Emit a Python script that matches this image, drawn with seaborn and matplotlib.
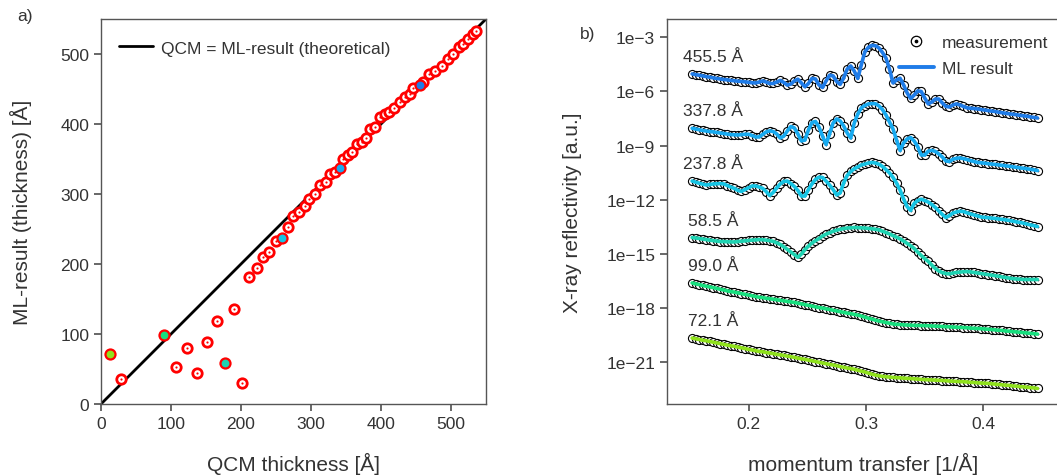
import numpy as np
import matplotlib
matplotlib.use("Agg")
import matplotlib.pyplot as plt
import seaborn as sns
from matplotlib.lines import Line2D
from matplotlib.legend_handler import HandlerTuple
from matplotlib.ticker import FixedLocator, FuncFormatter, NullLocator

# ---------------- data: panel a) ----------------
QCM_RED = [28.6, 106.7, 122.9, 137, 151, 165, 189.5, 201,
           212, 222.4, 231, 240.5, 250, 266.7, 274.8, 283.3, 291.4, 297, 305.7, 312.9,
           321, 327, 334, 346, 353.3, 359, 365, 372.4, 378.6, 384, 391.4, 398.6, 405.7,
           411.9, 419, 427, 434, 441.4, 446, 460, 469, 477, 486.7, 496, 503.3, 512,
           517.6, 524.8, 532, 535.7]
ML_RED = [35.2, 52.9, 79.5, 44, 89, 118.6, 135.7, 30,
          181, 194.3, 210.5, 216.7, 232.4, 253.3, 268, 273.8, 283.3, 292.9, 300, 313.3,
          316.7, 328.6, 331.9, 350, 355.7, 359.5, 371.4, 374.8, 379.5, 393, 396, 409.5, 414,
          417.6, 422.4, 431.9, 438, 442.9, 451, 459.5, 471, 476, 483.3, 493, 500, 509.5,
          514, 521, 528.6, 533]

# highlighted samples (order: top curve to bottom curve of panel b)
SAMPLE_THICK = [455.5, 337.8, 237.8, 58.5, 99.0, 72.1]
SAMPLE_QCM = [455, 341, 259, 177, 89.5, 12.9]
SAMPLE_LABELS = ["455.5 Å", "337.8 Å", "237.8 Å", "58.5 Å", "99.0 Å", "72.1 Å"]
SAMPLE_COLORS = ["#1f7ce8", "#17aaf0", "#16c4e4", "#1ed3b2", "#17df7e", "#8fe11c"]

# ---------------- data: panel b) (log10 reflectivity, offset curves) ----------------
Q = np.round(0.152 + 0.003 * np.arange(99), 4)

LOGR_455 = [-5.03, -5.07, -5.10, -5.14, -5.18, -5.21, -5.25, -5.28, -5.31, -5.34,
            -5.36, -5.39, -5.41, -5.43, -5.45, -5.47, -5.49, -5.52, -5.53, -5.48,
            -5.42, -5.48, -5.56, -5.56, -5.48, -5.39, -5.50, -5.65, -5.59, -5.42,
            -5.32, -5.53, -5.74, -5.56, -5.28, -5.31, -5.64, -5.78, -5.42, -5.10,
            -5.14, -5.45, -5.61, -5.25, -4.76, -4.59, -4.87, -5.28, -4.53, -3.81,
            -3.56, -3.45, -3.47, -3.59, -3.84, -4.15, -4.76, -5.53, -5.36, -5.27,
            -5.64, -6.08, -6.39, -6.20, -5.97, -6.00, -6.36, -6.69, -6.58, -6.42,
            -6.42, -6.64, -6.83, -6.86, -6.75, -6.69, -6.75, -6.83, -6.91, -6.93,
            -6.95, -6.97, -7.00, -7.03, -7.06, -7.09, -7.11, -7.15, -7.18, -7.21,
            -7.24, -7.26, -7.29, -7.32, -7.35, -7.37, -7.41, -7.44, -7.47]

LOGR_337 = [-8.04, -8.08, -8.12, -8.16, -8.19, -8.22, -8.24, -8.27, -8.30, -8.33,
            -8.36, -8.39, -8.40, -8.41, -8.39, -8.37, -8.37, -8.44, -8.52, -8.52,
            -8.38, -8.24, -8.18, -8.22, -8.35, -8.58, -8.47, -8.19, -7.94, -8.02,
            -8.35, -8.74, -8.69, -8.13, -7.72, -7.66, -7.97, -8.47, -8.94, -8.35,
            -7.75, -7.52, -7.63, -7.91, -8.30, -8.58, -7.75, -7.25, -6.91, -6.78,
            -6.69, -6.67, -6.68, -6.80, -7.00, -7.30, -7.69, -8.08, -8.69, -9.27,
            -8.85, -8.63, -8.55, -8.74, -9.05, -9.52, -9.52, -9.30, -9.26, -9.32,
            -9.46, -9.63, -9.85, -9.88, -9.75, -9.70, -9.68, -9.72, -9.77, -9.83,
            -9.88, -9.93, -9.95, -9.97, -10.00, -10.02, -10.04, -10.07, -10.09, -10.12,
            -10.14, -10.17, -10.20, -10.23, -10.25, -10.28, -10.31, -10.34, -10.38]

LOGR_237 = [-10.96, -11.02, -11.08, -11.13, -11.18, -11.15, -11.12, -11.11, -11.10, -11.12,
            -11.21, -11.29, -11.37, -11.48, -11.53, -11.43, -11.33, -11.23, -11.23, -11.29,
            -11.36, -11.54, -11.76, -11.59, -11.34, -11.12, -10.98, -10.96, -11.10, -11.26,
            -11.48, -11.79, -11.79, -11.43, -11.12, -10.87, -10.74, -10.76, -10.96, -11.18,
            -11.43, -11.73, -11.62, -11.07, -10.65, -10.43, -10.28, -10.18, -10.07, -10.02,
            -9.96, -9.93, -9.96, -10.03, -10.15, -10.32, -10.51, -10.76, -11.07, -11.46,
            -11.95, -12.37, -12.59, -12.20, -12.04, -11.96, -12.04, -12.12, -12.26, -12.42,
            -12.62, -12.81, -12.98, -12.87, -12.73, -12.67, -12.63, -12.65, -12.72, -12.78,
            -12.84, -12.89, -12.95, -12.97, -12.99, -13.01, -13.03, -13.06, -13.08, -13.11,
            -13.14, -13.18, -13.22, -13.25, -13.29, -13.34, -13.39, -13.43, -13.48]

LOGR_58 = [-14.09, -14.11, -14.14, -14.17, -14.20, -14.23, -14.26, -14.28, -14.31, -14.31,
           -14.32, -14.33, -14.33, -14.31, -14.29, -14.27, -14.25, -14.23, -14.22, -14.20,
           -14.21, -14.23, -14.26, -14.30, -14.38, -14.47, -14.60, -14.74, -14.89, -15.03,
           -15.18, -15.00, -14.75, -14.56, -14.39, -14.26, -14.14, -14.00, -13.90, -13.82,
           -13.74, -13.68, -13.63, -13.59, -13.56, -13.55, -13.53, -13.54, -13.55, -13.56,
           -13.58, -13.60, -13.63, -13.66, -13.74, -13.81, -13.89, -13.98, -14.07, -14.16,
           -14.28, -14.41, -14.54, -14.69, -14.89, -15.08, -15.25, -15.41, -15.61, -15.80,
           -15.94, -16.03, -16.08, -16.10, -16.05, -16.02, -16.00, -15.98, -15.97, -15.99,
           -16.02, -16.05, -16.08, -16.11, -16.14, -16.17, -16.20, -16.23, -16.27, -16.30,
           -16.33, -16.36, -16.38, -16.39, -16.41, -16.41, -16.41, -16.41, -16.41]

LOGR_99 = [-16.60, -16.65, -16.69, -16.74, -16.78, -16.82, -16.86, -16.90, -16.95, -16.99,
           -17.04, -17.08, -17.11, -17.15, -17.19, -17.23, -17.27, -17.31, -17.35, -17.39,
           -17.41, -17.45, -17.47, -17.50, -17.53, -17.56, -17.59, -17.62, -17.65, -17.68,
           -17.72, -17.76, -17.80, -17.84, -17.88, -17.92, -17.96, -17.99, -18.03, -18.07,
           -18.11, -18.15, -18.19, -18.23, -18.27, -18.30, -18.34, -18.38, -18.43, -18.49,
           -18.55, -18.60, -18.66, -18.71, -18.75, -18.79, -18.83, -18.87, -18.89, -18.90,
           -18.92, -18.93, -18.94, -18.95, -18.95, -18.96, -18.96, -18.97, -18.98, -18.99,
           -19.00, -19.01, -19.02, -19.03, -19.04, -19.05, -19.06, -19.07, -19.08, -19.10,
           -19.11, -19.12, -19.13, -19.15, -19.16, -19.18, -19.20, -19.22, -19.23, -19.26,
           -19.27, -19.30, -19.31, -19.33, -19.35, -19.37, -19.39, -19.41, -19.43]

LOGR_72 = [-19.65, -19.69, -19.73, -19.77, -19.80, -19.84, -19.88, -19.92, -19.96, -20.00,
           -20.04, -20.08, -20.11, -20.15, -20.19, -20.23, -20.28, -20.31, -20.35, -20.39,
           -20.41, -20.45, -20.48, -20.51, -20.55, -20.58, -20.61, -20.65, -20.68, -20.72,
           -20.76, -20.80, -20.83, -20.87, -20.91, -20.95, -20.99, -21.03, -21.07, -21.11,
           -21.14, -21.18, -21.23, -21.27, -21.31, -21.34, -21.38, -21.43, -21.48, -21.53,
           -21.59, -21.65, -21.70, -21.74, -21.77, -21.79, -21.81, -21.83, -21.84, -21.85,
           -21.87, -21.88, -21.89, -21.91, -21.92, -21.94, -21.95, -21.96, -21.97, -21.98,
           -21.99, -22.00, -22.01, -22.03, -22.04, -22.05, -22.06, -22.07, -22.08, -22.10,
           -22.11, -22.13, -22.14, -22.15, -22.16, -22.18, -22.20, -22.22, -22.24, -22.26,
           -22.27, -22.30, -22.31, -22.34, -22.35, -22.37, -22.39, -22.41, -22.44]

CURVES = [LOGR_455, LOGR_337, LOGR_237, LOGR_58, LOGR_99, LOGR_72]
YTICK_EXP = [-3, -6, -9, -12, -15, -18, -21]
XTICKS_B = [0.2, 0.3, 0.4]
XTICKS_A = [0, 100, 200, 300, 400, 500]
YTICKS_A = [0, 100, 200, 300, 400, 500]

# ---------------- style ----------------
sns.set_theme(style="ticks")
plt.rcParams["font.family"] = ["Liberation Sans", "DejaVu Sans"]
TXT = "#333333"
SPINE = "#555555"
plt.rcParams.update({
    "axes.edgecolor": SPINE, "axes.linewidth": 1.0,
    "xtick.color": SPINE, "ytick.color": SPINE,
    "xtick.labelcolor": TXT, "ytick.labelcolor": TXT,
    "xtick.labelsize": 12.5, "ytick.labelsize": 12.5,
    "xtick.major.size": 5, "ytick.major.size": 5,
    "axes.labelcolor": TXT, "text.color": TXT,
})

W, H = 1057, 477
fig = plt.figure(figsize=(W / 100, H / 100), dpi=100)
axA = fig.add_axes([101 / W, (H - 405) / H, 385 / W, 385 / H])
axB = fig.add_axes([667 / W, (H - 405) / H, 392 / W, 385 / H])

# ---------------- panel a ----------------
sns.lineplot(x=[0, 550], y=[0, 550], ax=axA, color="black", lw=2.0,
             label="QCM = ML-result (theoretical)", zorder=2)
sns.scatterplot(x=QCM_RED, y=ML_RED, ax=axA, marker="o", s=46, color="white",
                edgecolor="#ff0000", linewidth=2.0, zorder=3, legend=False)
sns.scatterplot(x=QCM_RED, y=ML_RED, ax=axA, marker="o", s=2.5, color="#ff0000",
                edgecolor="#ff0000", linewidth=0, zorder=4, legend=False)
for xq, yt, c in zip(SAMPLE_QCM, SAMPLE_THICK, SAMPLE_COLORS):
    sns.scatterplot(x=[xq], y=[yt], ax=axA, marker="o", s=52, color=c,
                    edgecolor="#ff0000", linewidth=1.6, zorder=5, legend=False)
axA.set_xlim(0, 550)
axA.set_ylim(0, 550)
axA.set_xticks(XTICKS_A)
axA.set_yticks(YTICKS_A)
axA.set_xlabel("QCM thickness [Å]", fontsize=15)
axA.set_ylabel("ML-result (thickness) [Å]", fontsize=15)
axA.xaxis.set_label_coords(0.5, -0.125)
axA.yaxis.set_label_coords(-0.18, 0.5)
for s in axA.spines.values():
    s.set_visible(True)
axA.legend(loc="upper left", frameon=False, fontsize=12.5, handlelength=2.0,
           bbox_to_anchor=(0.005, 0.985), handletextpad=0.45)

# ---------------- panel b ----------------
axB.set_yscale("log")
for logr, c, lab in zip(CURVES, SAMPLE_COLORS, SAMPLE_LABELS):
    R = 10 ** np.array(logr)
    sns.scatterplot(x=Q, y=R, ax=axB, marker="o", s=34, color="white",
                    edgecolor="black", linewidth=0.8, zorder=2, legend=False)
    sns.scatterplot(x=Q, y=R, ax=axB, marker="o", s=1.4, color="black",
                    edgecolor="black", linewidth=0, zorder=3, legend=False)
    sns.lineplot(x=Q, y=R, ax=axB, color=c, lw=2.6, zorder=4, legend=False)
    axB.text(0.170, 10 ** (logr[0] + 0.97), lab, ha="center", va="center",
             fontsize=12.5, color=TXT)

axB.set_xlim(0.1306, 0.4643)
axB.set_ylim(10 ** -23.30, 10 ** -1.99)
axB.xaxis.set_major_locator(FixedLocator(XTICKS_B))
axB.xaxis.set_major_formatter(FuncFormatter(lambda v, p: f"{v:.1f}"))
axB.yaxis.set_major_locator(FixedLocator([10.0 ** e for e in YTICK_EXP]))
axB.yaxis.set_major_formatter(FuncFormatter(
    lambda v, p: "1e\u2212{}".format(int(round(-np.log10(v))))))
axB.yaxis.set_minor_locator(NullLocator())
axB.set_xlabel("momentum transfer [1/Å]", fontsize=15)
axB.set_ylabel("X-ray reflectivity [a.u.]", fontsize=15)
axB.xaxis.set_label_coords(0.5, -0.125)
axB.yaxis.set_label_coords(-0.217, 0.5)

h_meas = (Line2D([], [], marker="o", ls="none", markersize=7.5, markerfacecolor="white",
                 markeredgecolor="black", markeredgewidth=0.9),
          Line2D([], [], marker="o", ls="none", markersize=1.7, color="black"))
h_ml = Line2D([], [], color=SAMPLE_COLORS[0], lw=2.8)
axB.legend([h_meas, h_ml], ["measurement", "ML result"], loc="upper right",
           frameon=False, fontsize=12.5, handlelength=2.0, labelspacing=0.6,
           handler_map={tuple: HandlerTuple(ndivide=1)},
           bbox_to_anchor=(1.0, 0.985), handletextpad=0.5, borderaxespad=0.2)

fig.text(25 / W, 1 - 17 / H, "a)", fontsize=12.5, ha="center", va="center")
fig.text(588 / W, 1 - 35 / H, "b)", fontsize=12.5, ha="center", va="center")

fig.savefig("out.png", dpi=100)
